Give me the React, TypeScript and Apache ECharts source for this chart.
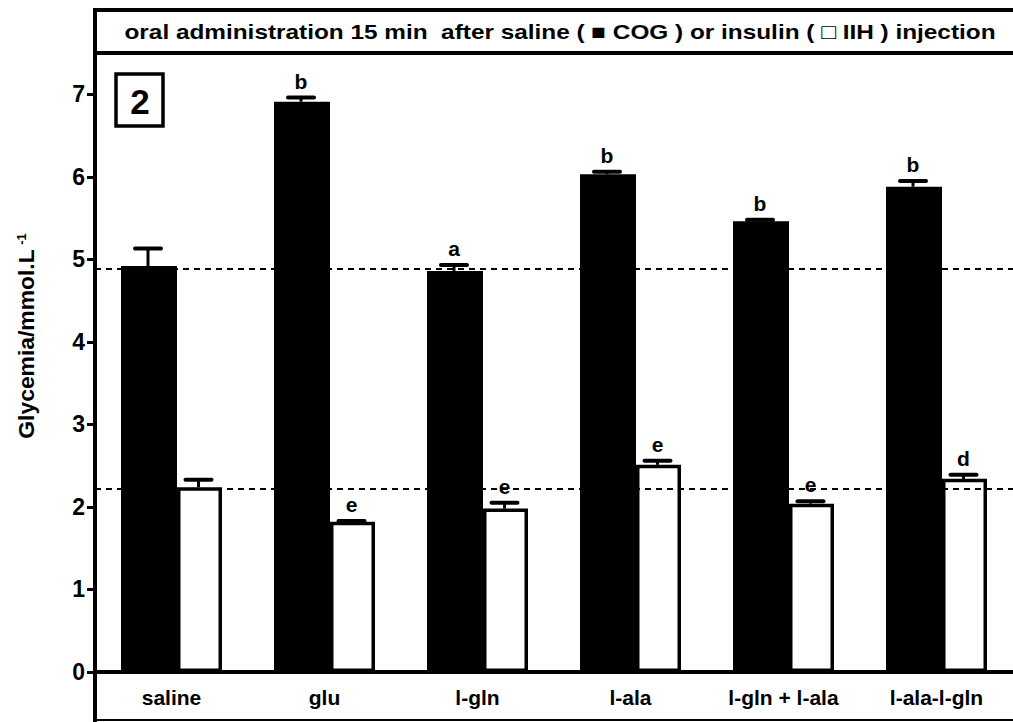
import React, { useEffect, useRef } from "react";
import * as echarts from "echarts";

const categories = ["saline", "glu", "l-gln", "l-ala", "l-gln + l-ala", "l-ala-l-gln"];
const cogMean = [4.92, 6.91, 4.86, 6.03, 5.46, 5.88];
const cogErr = [0.21, 0.05, 0.07, 0.03, 0.02, 0.07];
const iihMean = [2.24, 1.82, 1.98, 2.51, 2.04, 2.34];
const iihErr = [0.09, 0.01, 0.07, 0.05, 0.03, 0.05];
const cogLetters = ["", "b", "a", "b", "b", "b"];
const iihLetters = ["", "e", "e", "e", "e", "d"];
const refLines = [4.88, 2.22];
const yTicks = [0, 1, 2, 3, 4, 5, 6, 7];
const titleText = "oral administration 15 min  after saline ( \u25A0 COG ) or insulin ( \u25A1 IIH ) injection";
const panelLabel = "2";
const yName = "Glycemia/mmol.L";
const yNameSup = "-1";

const FONT = "'Liberation Sans', Arial, Helvetica, sans-serif";

export default function App() {
  const ref = useRef<HTMLDivElement>(null);
  useEffect(() => {
    if (!ref.current) return;
    const chart = echarts.init(ref.current, null, { renderer: "svg" });
    const errData: number[][] = [];
    const errLetters: string[] = [];
    categories.forEach((_, i) => {
      errData.push([i, cogMean[i], cogErr[i], 0]);
      errLetters.push(cogLetters[i]);
      errData.push([i, iihMean[i], iihErr[i], 1]);
      errLetters.push(iihLetters[i]);
    });
    const option: any = {
      animation: false,
      backgroundColor: "#fff",
      textStyle: { fontFamily: FONT },
      grid: { left: 95, top: 53, width: 924, height: 619, containLabel: false },
      xAxis: {
        type: "category",
        data: categories,
        axisLine: { show: true, lineStyle: { color: "#000", width: 4 } },
        axisTick: { show: false },
        axisLabel: { color: "#000", fontSize: 21, fontWeight: "bold", margin: 15, fontFamily: FONT },
        splitLine: { show: false },
      },
      yAxis: {
        type: "value",
        min: 0,
        max: 7.5,
        interval: 1,
        axisLine: { show: true, lineStyle: { color: "#000", width: 4 } },
        axisTick: { show: true, length: 8, lineStyle: { color: "#000", width: 3 }, customValues: yTicks },
        axisLabel: { color: "#000", fontSize: 23, fontWeight: "bold", margin: 10, fontFamily: FONT, customValues: yTicks },
        splitLine: { show: false },
      },
      series: [
        {
          type: "bar",
          name: "COG",
          data: cogMean,
          barWidth: 56,
          barGap: "0%",
          itemStyle: { color: "#000" },
          markLine: {
            silent: true,
            symbol: ["none", "none"],
            label: { show: false },
            lineStyle: { color: "#000", type: [6, 5], width: 2 },
            data: refLines.map((v) => ({ yAxis: v })),
          },
        },
        {
          type: "bar",
          name: "IIH",
          data: iihMean,
          barWidth: 45,
          barGap: "0%",
          itemStyle: { color: "#fff", borderColor: "#000", borderWidth: 3.5 },
        },
        {
          type: "custom",
          data: errData,
          z: 10,
          renderItem: (params: any, api: any) => {
            const i = api.value(0);
            const v = api.value(1);
            const e = api.value(2);
            const s = api.value(3);
            const base = api.coord([i, v]);
            const top = api.coord([i, v + e]);
            const x = base[0] + (s === 0 ? -23.5 : 27);
            const letter = errLetters[params.dataIndex];
            return {
              type: "group",
              children: [
                { type: "line", shape: { x1: x, y1: base[1], x2: x, y2: top[1] }, style: { stroke: "#000", lineWidth: 3 } },
                { type: "line", shape: { x1: x - 13, y1: top[1], x2: x + 13, y2: top[1] }, style: { stroke: "#000", lineWidth: 4, lineCap: "round" } },
                {
                  type: "text",
                  x: x,
                  y: top[1] - 6,
                  style: { text: letter, fill: "#000", font: `bold 21px ${FONT}`, align: "center", verticalAlign: "bottom" },
                },
              ],
            };
          },
        },
      ],
      graphic: [
        { type: "rect", shape: { x: 95, y: 10, width: 940, height: 43 }, style: { fill: "none", stroke: "#000", lineWidth: 4 }, z: 20 },
        { type: "line", shape: { x1: 95, y1: 8, x2: 95, y2: 722 }, style: { stroke: "#000", lineWidth: 4 }, z: 20 },
        { type: "line", shape: { x1: 95, y1: 720, x2: 1013, y2: 720 }, style: { stroke: "#000", lineWidth: 2 }, z: 20 },
        {
          type: "text",
          x: 560,
          y: 32,
          scaleX: 1.16,
          style: { text: titleText, fill: "#000", font: `bold 21px ${FONT}`, align: "center", verticalAlign: "middle" },
          z: 20,
        },
        { type: "rect", shape: { x: 116, y: 74, width: 47, height: 52 }, style: { fill: "#fff", stroke: "#000", lineWidth: 3.5 }, z: 20 },
        {
          type: "text",
          x: 140,
          y: 101,
          style: { text: panelLabel, fill: "#000", font: `bold 35px ${FONT}`, align: "center", verticalAlign: "middle" },
          z: 21,
        },
        {
          type: "text",
          x: 27,
          y: 344,
          rotation: Math.PI / 2,
          scaleX: 1.04,
          style: { text: yName, fill: "#000", font: `bold 22px ${FONT}`, align: "center", verticalAlign: "middle" },
          z: 20,
        },
        {
          type: "text",
          x: 21,
          y: 239,
          rotation: Math.PI / 2,
          style: { text: yNameSup, fill: "#000", font: `bold 13px ${FONT}`, align: "center", verticalAlign: "middle" },
          z: 20,
        },
      ],
    };
    chart.setOption(option);
    return () => chart.dispose();
  }, []);
  return <div ref={ref} style={{ width: 1013, height: 722, position: "absolute", left: 0, top: 0 }} />;
}
